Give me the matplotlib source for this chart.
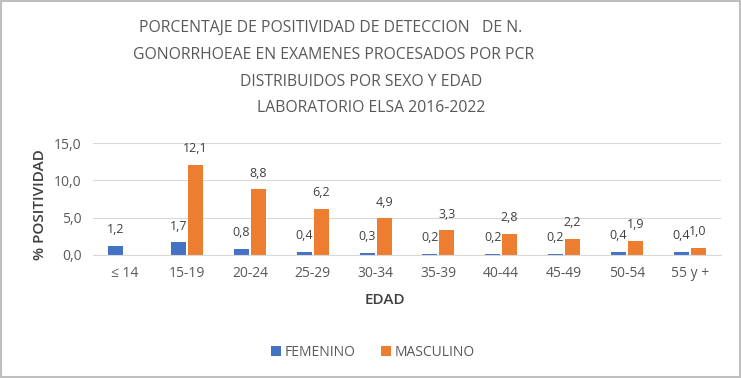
import matplotlib
matplotlib.use("Agg")
import matplotlib.pyplot as plt
import numpy as np
from matplotlib.patches import Rectangle

categories = ["≤ 14", "15-19", "20-24", "25-29", "30-34", "35-39", "40-44", "45-49", "50-54", "55 y +"]
femenino = [1.2, 1.7, 0.8, 0.4, 0.3, 0.2, 0.2, 0.2, 0.4, 0.4]
masculino = [np.nan, 12.1, 8.8, 6.2, 4.9, 3.3, 2.8, 2.2, 1.9, 1.0]
yticks = [0, 5, 10, 15]
title_lines = ["PORCENTAJE DE POSITIVIDAD DE DETECCION   DE N.",
               "GONORRHOEAE EN EXAMENES PROCESADOS POR PCR",
               "DISTRIBUIDOS POR SEXO Y EDAD",
               "LABORATORIO ELSA 2016-2022"]

plt.rcParams['font.family'] = ['Open Sans', 'DejaVu Sans']

fig = plt.figure(figsize=(7.41, 3.78), dpi=100)
W, H = 741, 378
ax = fig.add_axes([93 / W, 1 - 255 / H, (721 - 93) / W, (255 - 143) / H])

blue = "#4472C4"
orange = "#ED7D31"
x = np.arange(len(categories))
bw = 0.24
off = 0.135
b1 = ax.bar(x - off, femenino, bw, color=blue, label="FEMENINO")
b2 = ax.bar(x + off, masculino, bw, color=orange, label="MASCULINO")

def fmt(v):
    return f"{v:.1f}".replace(".", ",")

for xi, v in zip(x, femenino):
    ax.annotate(fmt(v), (xi - off, v), xytext=(0, 7), textcoords="offset points",
                ha="center", va="bottom", fontsize=9, color="#404040")
for xi, v in zip(x, masculino):
    if not np.isnan(v):
        ax.annotate(fmt(v), (xi + off, v), xytext=(0, 7), textcoords="offset points",
                    ha="center", va="bottom", fontsize=9, color="#404040")

ax.set_xlim(-0.5, len(categories) - 0.5)
ax.set_ylim(0, 15)
ax.set_yticks(yticks)
ax.set_yticklabels([fmt(t) for t in yticks], fontsize=10, color="#595959")
ax.set_xticks(x)
ax.set_xticklabels(categories, fontsize=10, color="#595959")
ax.tick_params(axis="both", length=0, pad=8)
ax.grid(axis="y", color="#D9D9D9", linewidth=0.8)
ax.set_axisbelow(True)
for s in ["top", "right", "left"]:
    ax.spines[s].set_visible(False)
ax.spines["bottom"].set_color("#D9D9D9")

fig.text(40 / W, 1 - 205 / H, "% POSITIVIDAD", rotation=90, ha="center", va="center",
         fontsize=11, color="#404040", fontweight="semibold")
fig.text(385 / W, 1 - 300 / H, "EDAD", ha="center", va="center", fontsize=11,
         color="#404040", fontweight="semibold")

title_x = [331, 334, 361, 371]
title_y = [28, 55, 82, 108]
for t, tx, ty in zip(title_lines, title_x, title_y):
    fig.text(tx / W, 1 - ty / H, t, ha="center", va="center", fontsize=11.3, color="#595959")

leg = fig.legend(handles=[b1, b2], loc="center", bbox_to_anchor=(373 / W, 1 - 352 / H),
                 ncol=2, frameon=False, fontsize=10, handlelength=0.7, handleheight=0.7,
                 columnspacing=1.8, handletextpad=0.3)
for t in leg.get_texts():
    t.set_color("#595959")

fig.patches.append(Rectangle((0.002, 0.003), 0.996, 0.994, transform=fig.transFigure,
                             fill=False, edgecolor="#BFBFBF", linewidth=1.5))

fig.savefig("out.png", dpi=100)
